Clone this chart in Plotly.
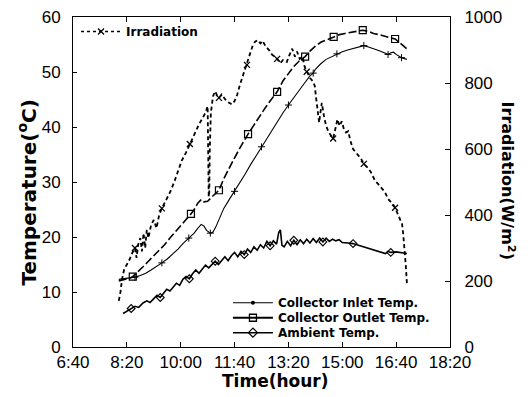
import plotly.graph_objects as go

# ---------------- data (time in minutes after midnight) ----------------
tick_vals = [400, 500, 600, 700, 800, 900, 1000, 1100]
tick_text = ["6:40", "8:20", "10:00", "11:40", "13:20", "15:00", "16:40", "18:20"]

irr_time = [485, 488, 491, 495, 500, 505, 510, 515, 518, 521, 525, 528, 531, 534, 537, 540,
            545, 550, 555, 560, 565, 570, 576, 582, 589, 595, 602, 610, 617, 622, 627, 634,
            641, 646, 650, 651.5, 652, 653, 654, 656, 660, 664, 668, 671, 676, 680, 685, 690,
            695, 700, 705, 710, 716, 723, 728, 734, 738, 743, 748, 752, 758, 764, 770, 775,
            779, 785, 790, 797, 802, 807, 812, 816, 821, 826, 830, 834, 840, 846, 849, 851,
            853, 855, 857, 859, 862, 866, 870, 875, 880, 883, 887, 891, 895, 899, 903, 907,
            911, 915, 920, 925, 929, 935, 940, 945, 948, 953, 957, 961, 966, 970, 974, 979,
            985, 990, 995, 998, 1003, 1007, 1011, 1013, 1015, 1016, 1018, 1020]
irr_value = [140, 165, 205, 235, 250, 265, 285, 300, 270, 310, 330, 290, 345, 300, 355, 330,
             370, 385, 360, 400, 420, 435, 455, 475, 505, 535, 565, 590, 615, 635, 655, 675,
             695, 710, 730, 560, 455, 470, 600, 710, 760, 775, 760, 755, 765, 755, 745, 740,
             735, 745, 765, 795, 825, 855, 885, 915, 925, 930, 920, 928, 910, 900, 885, 880,
             873, 860, 870, 864, 885, 904, 880, 895, 873, 880, 850, 834, 815, 804, 790, 760,
             735, 700, 680, 705, 740, 700, 670, 650, 640, 632, 660, 690, 670, 684, 660, 650,
             654, 625, 600, 590, 584, 570, 555, 548, 542, 530, 515, 503, 495, 488, 482, 470,
             449, 440, 430, 422, 405, 390, 373, 345, 310, 292, 245, 193]
irr_marks = [7, 20, 28, 43, 53, 64, 75, 89, 102, 115]

inlet_time = [485, 495, 505, 515, 525, 535, 545, 555, 565, 575, 585, 595, 605, 615, 625, 632,
              638, 643, 648, 655, 660, 665, 670, 675, 680, 690, 700, 710, 720, 730, 740, 750,
              760, 770, 780, 790, 800, 810, 820, 830, 840, 846, 850, 860, 870, 880, 890, 900,
              910, 920, 930, 940, 950, 960, 970, 980, 985, 990, 995, 1000, 1010, 1020]
inlet_temp = [12.3, 12.4, 12.5, 12.7, 13.0, 13.4, 14.0, 14.6, 15.3, 16.0, 16.9, 17.8, 18.9, 19.8,
              20.7, 21.6, 22.3, 22.0, 21.2, 20.7, 20.9, 21.8, 23.0, 24.2, 25.2, 26.8, 28.3, 29.8,
              31.5, 33.2, 34.8, 36.4, 38.0, 39.6, 41.0, 42.6, 44.0, 45.4, 46.8, 48.0, 49.3, 49.8,
              50.5, 51.5, 52.3, 52.8, 53.3, 53.7, 54.0, 54.3, 54.6, 54.8, 54.5, 54.2, 53.8, 53.4,
              53.2, 53.5, 53.6, 53.2, 52.6, 52.3]
inlet_marks = [3, 8, 13, 19, 26, 31, 36, 41, 46, 51, 56, 60]

outlet_time = [485, 495, 505, 511, 520, 530, 540, 550, 560, 570, 580, 590, 600, 610, 619, 625,
               632, 638, 643, 650, 657, 664, 671, 680, 690, 700, 710, 718, 725, 735, 745, 755,
               765, 779, 790, 800, 810, 820, 831, 840, 850, 860, 870, 884, 895, 905, 915, 925,
               938, 948, 958, 968, 978, 988, 998, 1008, 1020]
outlet_temp = [12.0, 12.2, 12.5, 12.8, 13.6, 14.6, 15.6, 16.6, 17.6, 18.6, 19.8, 21.0, 22.0,
               23.2, 24.2, 25.0, 26.2, 26.8, 26.4, 26.5, 27.2, 27.8, 28.5, 30.6, 32.6, 34.4,
               36.2, 37.6, 38.7, 40.2, 41.8, 43.2, 44.6, 46.4, 48.4, 49.8, 51.0, 52.0, 52.8,
               53.8, 54.7, 55.4, 55.8, 56.4, 56.8, 57.0, 57.2, 57.3, 57.6, 57.4, 57.0, 56.8,
               56.5, 56.3, 56.0, 55.2, 54.2]
outlet_marks = [3, 14, 22, 28, 33, 38, 43, 48, 54]

amb_time = [493, 500, 508, 515, 522, 530, 537, 543, 550, 556, 562, 568, 574, 580, 586, 592,
            598, 604, 610, 616, 622, 628, 634, 640, 646, 652, 658, 664, 670, 676, 682, 688,
            694, 700, 706, 712, 718, 724, 730, 736, 742, 748, 754, 760, 766, 772, 778, 782,
            785, 788, 792, 798, 804, 810, 816, 822, 828, 834, 840, 846, 852, 858, 864, 870,
            876, 882, 888, 894, 900, 910, 920, 930, 940, 950, 960, 970, 980, 985, 990, 1000,
            1010, 1020]
amb_temp = [6.1, 6.5, 7.0, 7.4, 7.2, 8.0, 8.4, 8.1, 8.8, 9.4, 9.0, 9.8, 10.5, 10.2, 11.0, 11.6,
            11.2, 12.3, 12.8, 12.4, 13.3, 14.0, 13.4, 14.2, 14.9, 14.4, 15.1, 15.6, 15.0, 15.8,
            16.4, 15.7, 16.6, 17.2, 16.4, 17.4, 16.8, 17.8, 17.2, 18.2, 17.6, 18.6, 18.0, 19.2,
            18.4, 19.3, 18.7, 20.8, 21.3, 18.5, 18.2, 19.2, 18.4, 19.4, 18.6, 19.5, 18.8, 19.6,
            18.9, 19.7, 19.0, 19.8, 19.1, 19.8, 19.2, 19.6, 19.3, 19.5, 19.0, 18.9, 18.8, 18.5,
            18.2, 18.0, 17.6, 17.3, 17.0, 17.4, 17.2, 17.3, 17.1, 17.0]
amb_marks = [2, 10, 19, 27, 36, 44, 53, 62, 70, 78]

# ---------------- figure ----------------
fig = go.Figure()
K = "black"


def pick(arr, idx):
    return [arr[i] for i in idx]


# data lines
fig.add_trace(go.Scatter(x=irr_time, y=irr_value, yaxis="y2", mode="lines", showlegend=False,
                         line=dict(color=K, width=1.8, dash="4px,3px")))
fig.add_trace(go.Scatter(x=pick(irr_time, irr_marks), y=pick(irr_value, irr_marks), yaxis="y2",
                         mode="markers", showlegend=False,
                         marker=dict(symbol="x-thin", size=6, line=dict(color=K, width=1.3))))

fig.add_trace(go.Scatter(x=outlet_time, y=outlet_temp, mode="lines", showlegend=False,
                         line=dict(color=K, width=1.6, dash="8px,3px")))
fig.add_trace(go.Scatter(x=pick(outlet_time, outlet_marks), y=pick(outlet_temp, outlet_marks),
                         mode="markers", showlegend=False,
                         marker=dict(symbol="square-open", size=7, color=K, line=dict(width=1.2))))

fig.add_trace(go.Scatter(x=inlet_time, y=inlet_temp, mode="lines", showlegend=False,
                         line=dict(color=K, width=1.1)))
fig.add_trace(go.Scatter(x=pick(inlet_time, inlet_marks), y=pick(inlet_temp, inlet_marks),
                         mode="markers", showlegend=False,
                         marker=dict(symbol="cross-thin", size=5, line=dict(color=K, width=1))))

fig.add_trace(go.Scatter(x=amb_time, y=amb_temp, mode="lines", showlegend=False,
                         line=dict(color=K, width=1.6)))
fig.add_trace(go.Scatter(x=pick(amb_time, amb_marks), y=pick(amb_temp, amb_marks),
                         mode="markers", showlegend=False,
                         marker=dict(symbol="diamond-open", size=6, color=K, line=dict(width=1.1))))

# legend entries (each in its own legend box so rows can sit close together)
fig.add_trace(go.Scatter(x=[None], y=[None], yaxis="y2", mode="lines+markers", name="Irradiation",
                         legend="legend",
                         line=dict(color=K, width=1.5, dash="3px,3px"),
                         marker=dict(symbol="x-thin", size=6, line=dict(color=K, width=1.3))))
fig.add_trace(go.Scatter(x=[None], y=[None], mode="lines+markers", name="Collector Inlet Temp.",
                         legend="legend2", line=dict(color=K, width=1),
                         marker=dict(symbol="circle", size=4, color=K)))
fig.add_trace(go.Scatter(x=[None], y=[None], mode="lines+markers", name="Collector Outlet Temp.",
                         legend="legend3", line=dict(color=K, width=2.2),
                         marker=dict(symbol="square-open", size=7, color=K, line=dict(width=1.3))))
fig.add_trace(go.Scatter(x=[None], y=[None], mode="lines+markers", name="Ambient Temp.",
                         legend="legend4", line=dict(color=K, width=1.6),
                         marker=dict(symbol="diamond-open", size=7, color=K, line=dict(width=1.2))))

TICKFONT = dict(family="Liberation Sans, Arial", size=17, color=K)
LEGFONT = dict(family="DejaVu Sans", size=12, color=K, weight="bold")


def leg(x, y):
    return dict(x=x, y=y, xanchor="left", yanchor="top", bgcolor="rgba(0,0,0,0)",
                font=LEGFONT, itemwidth=40)


axis_common = dict(showline=True, linecolor=K, linewidth=1, tickcolor=K, showgrid=False,
                   zeroline=False, tickfont=TICKFONT, automargin=False,
                   ticklabeloverflow="allow", ticks="inside")

# the page body has an 8px margin, so the figure is drawn 8px smaller and offset
fig.update_layout(
    width=523, height=389,
    margin=dict(l=65, r=81, t=9, b=50),
    paper_bgcolor="white", plot_bgcolor="white",
    xaxis=dict(range=[400, 1100], tickvals=tick_vals, ticktext=tick_text, mirror="ticks",
               ticklen=5, ticklabelstandoff=0, **axis_common),
    yaxis=dict(range=[0, 60], tickvals=[0, 10, 20, 30, 40, 50, 60],
               ticklen=4, ticklabelstandoff=8, **axis_common),
    yaxis2=dict(range=[0, 1000], tickvals=[0, 200, 400, 600, 800, 1000], overlaying="y",
                side="right", ticklen=5, ticklabelstandoff=10, **axis_common),
    legend=leg(0.008, 1.0),
    legend2=leg(0.411, 0.178),
    legend3=leg(0.411, 0.1325),
    legend4=leg(0.411, 0.0873),
    annotations=[
        dict(text="Temperature(<sup>o</sup>C)", xref="paper", yref="paper", x=-0.122, y=0.468,
             textangle=-90, showarrow=False, xanchor="center", yanchor="middle",
             font=dict(family="DejaVu Sans", size=20, color=K, weight="bold")),
        dict(text="Irradiation(W/m<sup>2</sup>)", xref="paper", yref="paper", x=1.155, y=0.503,
             textangle=90, showarrow=False, xanchor="center", yanchor="middle",
             font=dict(family="DejaVu Sans", size=16, color=K, weight="bold")),
        dict(text="Time(hour)", xref="paper", yref="paper", x=0.537, y=-0.104,
             showarrow=False, xanchor="center", yanchor="middle",
             font=dict(family="DejaVu Sans", size=17, color=K, weight="bold")),
    ],
)

fig.write_html("out.html")
